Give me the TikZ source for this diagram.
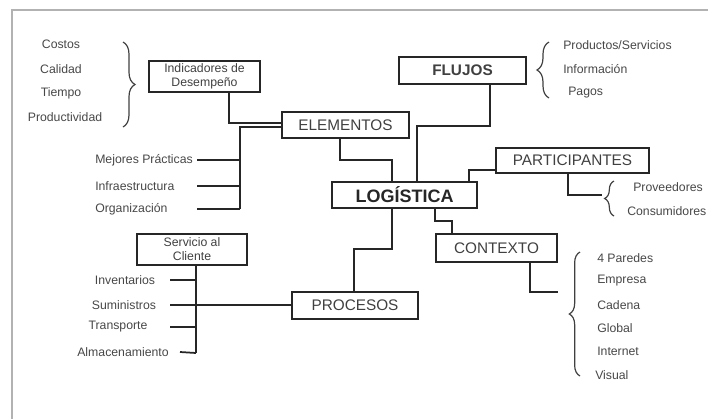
\documentclass[tikz,border=0pt]{standalone}
\usepackage{fontspec}
\setmainfont{Liberation Sans}
\usetikzlibrary{
  positioning,
  chains,
  decorations.pathreplacing
}

\begin{document}
\begin{tikzpicture}[
      x=0.75pt,y=-0.75pt,
      box/.style={
         rectangle,
         draw=black!85,
         line width=1.3pt,
         inner sep=0pt,
         font=\fontsize{11.5}{12}\selectfont,
         text=black!75
      },
      item/.style={
         inner sep=0pt,
         font=\fontsize{9.2}{10}\selectfont,
         text=black!72
      },
      point/.style={coordinate},
      link/.style={line width=1.3pt,draw=black!85},
      brace/.style={decorate,decoration={brace,amplitude=#1},line width=0.9pt,draw=black!75},
      hv path/.style={to path={-| (\tikztotarget)}},
      vh path/.style={to path={|- (\tikztotarget)}}
    ]
    \useasboundingbox (0,0) rectangle (708,419);
    \clip (0,0) rectangle (708,419);
    \draw[gray!60,line width=1.5pt] (708,10) -- (12,10) -- (12,419);

    % boxes
    \node (log) [box,minimum width=108.75pt,minimum height=19.5pt,
       font=\fontsize{13.5}{14}\selectfont\bfseries,text=black!85] at (404.5,195) {LOGÍSTICA};
    \node (elem) [box,minimum width=95.25pt,minimum height=19.5pt] at (345.5,125) {ELEMENTOS};
    \node (ind) [box,minimum width=83.25pt,minimum height=23.25pt,align=center,
       font=\fontsize{9.2}{10.5}\selectfont] at (204.5,76.5) {Indicadores de\\Desempeño};
    \node (flujos) [box,minimum width=95.25pt,minimum height=20.25pt,
       font=\fontsize{11.5}{12}\selectfont\bfseries] at (462.5,70.5) {FLUJOS};
    \node (part) [box,minimum width=114.75pt,minimum height=18.75pt] at (572.5,160.5) {PARTICIPANTES};
    \node (ctx) [box,minimum width=90.75pt,minimum height=21pt] at (496.5,248) {CONTEXTO};
    \node (proc) [box,minimum width=94.5pt,minimum height=20.25pt] at (355,305.5) {PROCESOS};
    \node (serv) [box,minimum width=82.5pt,minimum height=23.25pt,align=center,
       font=\fontsize{9.2}{10.5}\selectfont] at (192,249.5) {Servicio al\\Cliente};

    % items
    \node (cos) [item] at (61,44) {Costos};
    \node (cal) [item] at (61,69) {Calidad};
    \node (tie) [item] at (61,93) {Tiempo};
    \node (pro) [item] at (65,117) {Productividad};
    \node (mej) [item,anchor=west] at (95,160) {Mejores Prácticas};
    \node (inf) [item,anchor=west] at (95,186) {Infraestructura};
    \node (org) [item,anchor=west] at (95,209) {Organización};
    \node (prs) [item,anchor=west] at (563,45) {Productos/Servicios};
    \node (inm) [item,anchor=west] at (563,69) {Información};
    \node (pag) [item,anchor=west] at (568,93) {Pagos};
    \node (prv) [item,anchor=west] at (633,187) {Proveedores};
    \node (con) [item,anchor=west] at (627,211) {Consumidores};
    \node (par) [item,anchor=west] at (597,258) {4 Paredes};
    \node (emp) [item,anchor=west] at (597,281) {Empresa};
    \node (cad) [item,anchor=west] at (597,305) {Cadena};
    \node (glo) [item,anchor=west] at (597,328) {Global};
    \node (int) [item,anchor=west] at (597,351) {Internet};
    \node (vis) [item,anchor=west] at (595,375) {Visual};
    \node (inv) [item] at (125,280) {Inventarios};
    \node (sum) [item] at (124,305) {Suministros};
    \node (tra) [item] at (118,327) {Transporte};
    \node (alm) [item] at (123,352) {Almacenamiento};

    % bend points
    \node (ie) [point] at (229,123) {};
    \node (et) [point] at (240,127) {};
    \node (eb) [point] at (240,209) {};
    \node (xl) [point] at (197,0) {};
    \node (el1) [point] at (340,160) {};
    \node (lx) [point] at (392,249) {};
    \node (fl1) [point] at (417,126) {};
    \node (fx) [point] at (490,0) {};
    \node (pa1) [point] at (469,170) {};
    \node (pa2) [point] at (568,195) {};
    \node (pb) [point] at (602,195) {};
    \node (cx1) [point] at (435,221) {};
    \node (cxx) [point] at (452,0) {};
    \node (cx2) [point] at (530,292) {};
    \node (cb) [point] at (558,292) {};
    \node (px) [point] at (354,0) {};
    \node (sv) [point] at (196,353) {};
    \node (sl) [point] at (170,0) {};
    \node (sa) [point] at (180,0) {};

    % connectors
    \draw[link] (ind.south -| ie) -- (ie) -- (ie -| elem.west);
    \draw[link] (elem.west |- et) -- (et) -- (eb);
    \draw[link] (mej -| xl) -- (mej -| et);
    \draw[link] (inf -| xl) -- (inf -| et);
    \draw[link] (org -| xl) -- (eb);
    \draw[link] (elem.south -| el1) -- (el1) -| (log.north -| lx);
    \draw[link] (log.north -| fl1) -- (fl1) -| (flujos.south -| fx);
    \draw[link] (log.north -| pa1) -- (pa1) -- (pa1 -| part.west);
    \draw[link] (part.south -| pa2) to[vh path] (pb);
    \draw[link] (log.south -| cx1) -- (cx1) -| (ctx.north -| cxx);
    \draw[link] (ctx.south -| cx2) to[vh path] (cb);
    \draw[link] (log.south -| lx) -- (lx) -| (proc.north -| px);
    \draw[link] (serv.south -| sv) -- (sv);
    \draw[link] (inv -| sl) -- (inv -| sv);
    \draw[link] (sum -| sl) -- (sum -| proc.west);
    \draw[link] (tra -| sl) -- (tra -| sv);
    \draw[link] (alm -| sa) -- (sv);

    % braces
    \draw[brace=9pt] (123,42) -- (123,127);
    \draw[brace=9pt] (549,98) -- (549,42);
    \draw[brace=7pt] (614,216) -- (614,181);
    \draw[brace=8pt] (580,376) -- (580,252);
\end{tikzpicture}
\end{document}
